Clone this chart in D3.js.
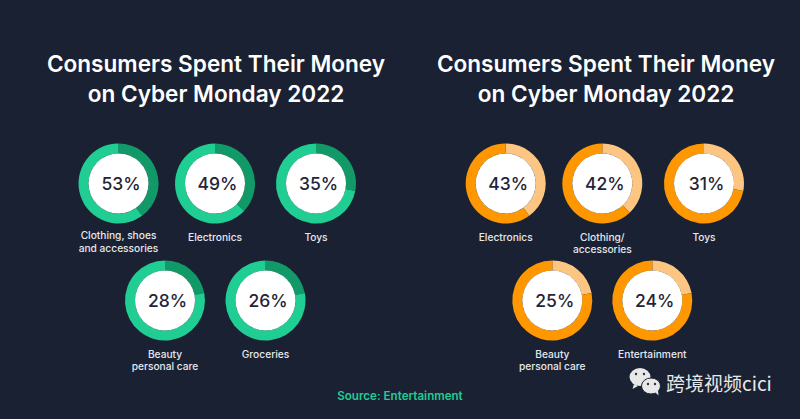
<!DOCTYPE html>
<html><head><meta charset="utf-8">
<script src="https://cdn.jsdelivr.net/npm/d3@7/dist/d3.min.js"></script>
<style>html,body{margin:0;padding:0;background:#1a2133;overflow:hidden}svg{display:block}text{font-family:Inter,sans-serif}</style>
</head><body><svg id="c" width="800" height="419"></svg>
<script>
const titleLines = ["Consumers Spent Their Money", "on Cyber Monday 2022"];
const leftCategories = [["Clothing, shoes","and accessories"],["Electronics"],["Toys"],["Beauty","personal care"],["Groceries"]];
const leftValues = [53,49,35,28,26];
// The rings in the picture do not sweep to their printed percentages; these are the sweeps.
const leftArcShares = [40,37,28,22,22];
const rightCategories = [["Electronics"],["Clothing/","accessories"],["Toys"],["Beauty","personal care"],["Entertainment"]];
const rightValues = [43,42,31,25,24];
const rightArcShares = [40,38,28,22,22];
const sourceText = "Source: Entertainment";
const watermarkText = "跨境视频cici";

const svg = d3.select("#c");
const arc = d3.arc().innerRadius(30).outerRadius(40);
const pie = d3.pie().sort(null);

function panel(cfg){
  const g = svg.append("g");
  titleLines.forEach((t,i)=>g.append("text").attr("x",cfg.titleX).attr("y",72+i*29.5)
    .attr("text-anchor","middle").attr("fill","#fff").attr("font-size",22.6).attr("font-weight",600).text(t));
  cfg.values.forEach((v,i)=>{
    const [cx,cy]=cfg.centers[i];
    const d=g.append("g").attr("transform",`translate(${cx},${cy})`);
    d.selectAll("path").data(pie([cfg.shares[i],100-cfg.shares[i]])).join("path").attr("d",arc)
      .attr("fill",(_,k)=>k===0?cfg.on:cfg.off);
    d.append("circle").attr("r",30).attr("fill","#fff");
    d.append("text").attr("x",2.5).attr("y",6.5).attr("text-anchor","middle").attr("fill","#1f2438")
      .attr("font-size",17.5).attr("font-weight",500).text(v+"%");
    cfg.cats[i].forEach((t,k)=>d.append("text").attr("y",cfg.labelY[i][k])
      .attr("text-anchor","middle").attr("fill","#e6e8ec").attr("font-size",10.2).attr("font-weight",500).text(t));
  });
}
panel({titleX:216,values:leftValues,shares:leftArcShares,cats:leftCategories,on:"#119a68",off:"#20cd92",
  centers:[[118.5,183.5],[215,183.5],[316,183.5],[165,300.5],[265.5,300.5]],
  labelY:[[55.5,68],[57],[57],[57,69.5],[57]]});
panel({titleX:606,values:rightValues,shares:rightArcShares,cats:rightCategories,on:"#fdc582",off:"#ff9800",
  centers:[[505.7,183.5],[602.3,183.5],[704,183.5],[552.3,300.5],[652.3,300.5]],
  labelY:[[57],[57,69.5],[57],[57,69.5],[57]]});

svg.append("text").attr("x",400).attr("y",400).attr("text-anchor","middle").attr("fill","#20cd92")
  .attr("font-size",11.6).attr("font-weight",600).text(sourceText);

const wm = svg.append("g").attr("fill","#e8e8e8");
wm.append("ellipse").attr("cx",640).attr("cy",377).attr("rx",10.5).attr("ry",9);
wm.append("path").attr("d","M634 384l-1.5 5 5.5-3z");
wm.append("ellipse").attr("cx",651).attr("cy",386).attr("rx",9.5).attr("ry",8).attr("stroke","#1a2133").attr("stroke-width",1);
wm.append("path").attr("d","M655 392l3.5 3.5-.5-5z");
[[636,374],[644,374],[648,384],[655,384]].forEach(([x,y])=>wm.append("circle").attr("cx",x).attr("cy",y).attr("r",1.2).attr("fill","#333"));
svg.append("text").attr("x",666).attr("y",391).attr("fill","#e8e8e8").attr("font-size",19)
  .style("font-family","'Noto Sans CJK SC',sans-serif").text(watermarkText);
</script></body></html>
